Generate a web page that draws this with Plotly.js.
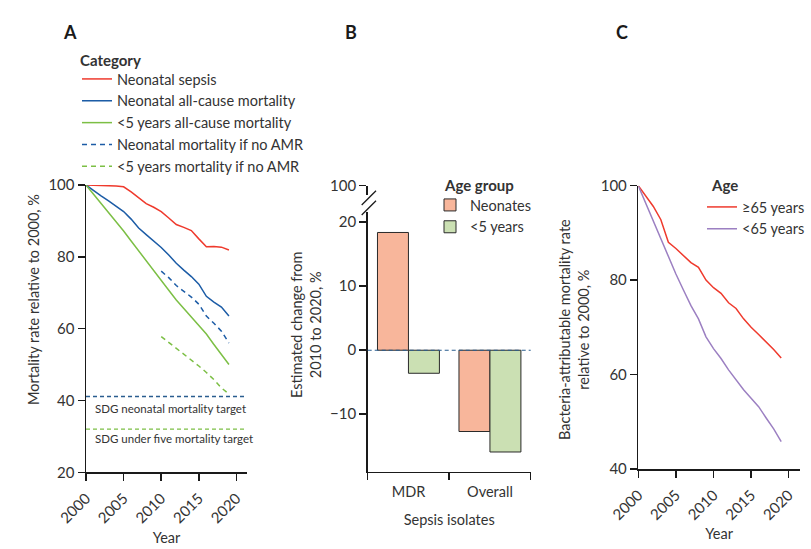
<!DOCTYPE html>
<html>
<head>
<meta charset="utf-8">
<script src="https://cdn.plot.ly/plotly-3.0.1.min.js"></script>
<style>html,body{margin:0;padding:0;background:#fff;}#chart{width:811px;height:549px;}</style>
</head>
<body>
<div id="chart"></div>
<script>
// ---------- Panel A data ----------
var yearsA = [2000,2001,2002,2003,2004,2005,2006,2007,2008,2009,2010,2011,2012,2013,2014,2015,2016,2017,2018,2019];
var neonatalSepsis = [100,100,99.9,99.8,99.7,99.5,98.1,96.5,94.8,93.8,92.6,90.8,89.0,88.2,87.3,85.0,82.8,82.9,82.7,81.9];
var neonatalAllCause = [100,98.4,97.0,95.6,94.2,92.6,90.5,88.0,86.2,84.5,82.6,80.5,78.2,76.3,74.5,72.4,69.0,67.4,66.0,63.5];
var under5AllCause = [100,97.5,95.0,92.4,89.9,87.2,84.4,81.6,78.8,76.1,73.4,70.7,68.0,65.7,63.4,61.1,58.5,55.6,52.7,50.0];
var yearsNoAMR = [2010,2011,2012,2013,2014,2015,2016,2017,2018,2019];
var neonatalNoAMR = [76.0,74.2,72.0,70.3,68.8,66.8,63.5,61.5,59.3,56.0];
var under5NoAMR = [57.8,56.2,54.5,52.8,51.2,49.6,47.8,45.8,43.5,41.8];
var sdgNeonatalTarget = 41.1;
var sdgUnder5Target = 32.0;
var yearTicks = [2000,2005,2010,2015,2020];

// ---------- Panel B data ----------
var isolateCats = ['MDR','Overall'];
var neonatesChange = [18.4,-12.7];
var under5Change = [-3.6,-15.9];
var bTicks = [-10,0,10,20];
var bBreakTick = [100];

// ---------- Panel C data ----------
var yearsC = [2000,2001,2002,2003,2004,2005,2006,2007,2008,2009,2010,2011,2012,2013,2014,2015,2016,2017,2018,2019];
var age65plus = [100,97.8,95.6,92.8,88.0,86.7,85.3,83.7,82.7,80.0,78.4,77.2,75.2,74.0,71.8,70.0,68.5,67.0,65.3,63.5];
var ageUnder65 = [100,96.2,92.6,88.7,84.8,81.3,77.9,74.6,71.8,68.0,65.5,63.4,61.0,58.8,56.8,55.0,53.2,50.8,48.5,45.8];

var RED = '#ef3a2d', BLUE = '#1c5ca6', GREEN = '#7cbf45', PURPLE = '#9c80c2';
var SALMON = '#f8b69b', LGREEN = '#cbe0b3';
var FONT = 'Lato, "Noto Sans", sans-serif';
var TXT = '#333333';
var W = 811, H = 549;
function px(x){return x/W;}
function py(y){return 1 - y/H;}

var traces = [
  {x: yearsA, y: neonatalSepsis, name: 'Neonatal sepsis', type: 'scatter', mode: 'lines', line: {color: RED, width: 1.5}, xaxis: 'x', yaxis: 'y', legend: 'legend'},
  {x: yearsA, y: neonatalAllCause, name: 'Neonatal all-cause mortality', type: 'scatter', mode: 'lines', line: {color: BLUE, width: 1.5}, xaxis: 'x', yaxis: 'y', legend: 'legend'},
  {x: yearsA, y: under5AllCause, name: '<5 years all-cause mortality', type: 'scatter', mode: 'lines', line: {color: GREEN, width: 1.5}, xaxis: 'x', yaxis: 'y', legend: 'legend'},
  {x: yearsNoAMR, y: neonatalNoAMR, name: 'Neonatal mortality if no AMR', type: 'scatter', mode: 'lines', line: {color: BLUE, width: 1.5, dash: '5px,4px'}, xaxis: 'x', yaxis: 'y', legend: 'legend'},
  {x: yearsNoAMR, y: under5NoAMR, name: '<5 years mortality if no AMR', type: 'scatter', mode: 'lines', line: {color: GREEN, width: 1.5, dash: '5px,4px'}, xaxis: 'x', yaxis: 'y', legend: 'legend'},

  {x: isolateCats, y: neonatesChange, name: 'Neonates', type: 'bar', marker: {color: SALMON, line: {color: '#2a2a2a', width: 1}}, xaxis: 'x2', yaxis: 'y2', legend: 'legend2'},
  {x: isolateCats, y: under5Change, name: '<5 years', type: 'bar', marker: {color: LGREEN, line: {color: '#2a2a2a', width: 1}}, xaxis: 'x2', yaxis: 'y2', legend: 'legend2'},
  {x: [], y: [], type: 'scatter', mode: 'lines', showlegend: false, xaxis: 'x2', yaxis: 'y4', hoverinfo: 'skip'},

  {x: yearsC, y: age65plus, name: '≥65 years', type: 'scatter', mode: 'lines', line: {color: RED, width: 1.5}, xaxis: 'x3', yaxis: 'y3', legend: 'legend3'},
  {x: yearsC, y: ageUnder65, name: '<65 years', type: 'scatter', mode: 'lines', line: {color: PURPLE, width: 1.5}, xaxis: 'x3', yaxis: 'y3', legend: 'legend3'}
];

var axLine = {showline: true, linecolor: '#1a1a1a', linewidth: 1.5, ticks: 'outside', ticklen: 7, tickwidth: 1.5, tickcolor: '#1a1a1a', showgrid: false, zeroline: false, tickfont: {family: FONT, size: 15, color: TXT}};
function ax(o){var r = {}; for (var k in axLine) r[k] = axLine[k]; for (var k2 in o) r[k2] = o[k2]; return r;}

var legendBase = {bgcolor: 'rgba(0,0,0,0)', font: {family: FONT, size: 14.5, color: TXT}, xanchor: 'left', yanchor: 'top', tracegroupgap: 0, itemclick: false};
function lg(o){var r = {}; for (var k in legendBase) r[k] = legendBase[k]; for (var k2 in o) r[k2] = o[k2]; return r;}

function ann(text, x, y, o){
  var a = {text: text, xref: 'paper', yref: 'paper', x: px(x), y: py(y), xanchor: 'center', yanchor: 'middle', showarrow: false, font: {family: FONT, size: 14.5, color: TXT}};
  for (var k in (o||{})) a[k] = o[k];
  return a;
}

var layout = {
  width: W, height: H,
  margin: {l: 0, r: 0, t: 0, b: 0},
  paper_bgcolor: '#fff', plot_bgcolor: 'rgba(0,0,0,0)',
  font: {family: FONT, size: 14.5, color: TXT},
  barmode: 'group', bargap: 0.24, bargroupgap: 0,
  showlegend: true,

  xaxis: ax({domain: [px(86), px(247)], anchor: 'y', range: [2000, 2021.4], tickvals: yearTicks, tickangle: -45, ticklabelstandoff: 3,
    title: {text: 'Year', font: {family: FONT, size: 14.5, color: TXT}, standoff: 7}}),
  yaxis: ax({domain: [py(472.3), py(185)], anchor: 'x', range: [20, 100], tickvals: [20,40,60,80,100]}),

  xaxis2: ax({domain: [px(367.7), px(530.7)], anchor: 'y2', type: 'category', range: [-0.5, 1.5], tickson: 'boundaries',
    tickfont: {family: FONT, size: 14.5, color: TXT}, ticklabelstandoff: 6,
    title: {text: 'Sepsis isolates', font: {family: FONT, size: 14.5, color: TXT}, standoff: 16}}),
  yaxis2: ax({domain: [py(471.7), py(212)], anchor: 'x2', range: [-18.98, 21.6], tickvals: bTicks}),
  yaxis4: ax({domain: [py(195), py(185.5)], anchor: 'x2', range: [97, 100], tickvals: bBreakTick}),

  xaxis3: ax({domain: [px(638.3), px(800)], anchor: 'y3', range: [2000, 2021.5], tickvals: yearTicks, tickangle: -45, ticklabelstandoff: 3,
    title: {text: 'Year', font: {family: FONT, size: 14.5, color: TXT}, standoff: 7}}),
  yaxis3: ax({domain: [py(469), py(185.7)], anchor: 'x3', range: [40, 100], tickvals: [40,60,80,100]}),

  legend: lg({x: px(77), y: py(63)}),
  legend2: lg({x: px(430), y: py(189)}),
  legend3: lg({x: px(702), y: py(191)}),

  shapes: [
    {type: 'line', xref: 'x domain', x0: 0, x1: 1, yref: 'y', y0: sdgNeonatalTarget, y1: sdgNeonatalTarget, line: {color: '#2a5d8f', width: 1.3, dash: '4px,3px'}},
    {type: 'line', xref: 'x domain', x0: 0, x1: 1, yref: 'y', y0: sdgUnder5Target, y1: sdgUnder5Target, line: {color: GREEN, width: 1.3, dash: '4px,3px'}},
    {type: 'line', xref: 'x2 domain', x0: 0, x1: 1, yref: 'y2', y0: 0, y1: 0, layer: 'above', line: {color: '#2a5d8f', width: 1.1, dash: '4px,3px'}},
    {type: 'line', xref: 'paper', yref: 'paper', x0: px(361.7), x1: px(376), y0: py(205), y1: py(190.7), line: {color: '#1a1a1a', width: 1.3}},
    {type: 'line', xref: 'paper', yref: 'paper', x0: px(361.7), x1: px(376), y0: py(215), y1: py(200.7), line: {color: '#1a1a1a', width: 1.3}}
  ],

  annotations: [
    ann('<b>A</b>', 70, 32, {font: {family: FONT, size: 18, color: '#1a1a1a'}}),
    ann('<b>B</b>', 351, 32, {font: {family: FONT, size: 18, color: '#1a1a1a'}}),
    ann('<b>C</b>', 622, 32, {font: {family: FONT, size: 18, color: '#1a1a1a'}}),
    ann('<b>Category</b>', 78, 60, {xanchor: 'left', font: {family: FONT, size: 15, color: TXT}}),
    ann('<b>Age group</b>', 442, 185, {xanchor: 'left', font: {family: FONT, size: 15, color: TXT}}),
    ann('<b>Age</b>', 709, 185, {xanchor: 'left', font: {family: FONT, size: 15, color: TXT}}),
    ann('Mortality rate relative to 2000, %', 33, 300, {textangle: -90}),
    ann('Estimated change from<br>2010 to 2020, %', 306, 325, {textangle: -90}),
    ann('Bacteria-attributable mortality rate<br>relative to 2000, %', 574, 330, {textangle: -90}),
    ann('SDG neonatal mortality target', 93, 408, {xanchor: 'left', font: {family: FONT, size: 11.5, color: TXT}}),
    ann('SDG under five mortality target', 93, 438, {xanchor: 'left', font: {family: FONT, size: 11.5, color: TXT}})
  ]
};

Plotly.newPlot('chart', traces, layout, {displayModeBar: false, staticPlot: true});
</script>
</body>
</html>
